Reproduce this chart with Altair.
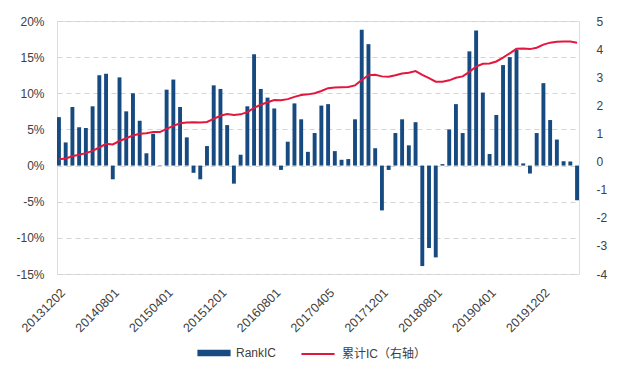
import altair as alt
import pandas as pd

# Monthly RankIC (%), Dec 2013 .. May 2020
rank_ic = [6.7, 3.2, 8.1, 5.3, 5.2, 8.2, 12.5, 12.7, -1.9, 12.2,
           7.5, 10.0, 6.2, 1.7, 4.4, 0.05, 10.5, 11.9, 8.1, 3.9,
           -1.0, -1.9, 2.7, 11.1, 10.6, 5.6, -2.5, 1.5, 8.2, 15.4,
           10.6, 9.4, 7.9, -0.6, 3.3, 8.6, 6.4, 1.9, 4.5, 8.3,
           8.5, 2.0, 0.8, 0.9, 6.4, 18.8, 16.8, 2.4, -6.2, -0.6,
           4.5, 6.4, 2.8, 6.0, -13.9, -11.4, -12.7, 0.2, 5.0, 8.5,
           4.5, 15.8, 18.7, 10.1, 1.6, 7.0, 13.9, 15.0, 16.0, 0.3,
           -1.1, 4.5, 11.4, 6.3, 3.6, 0.6, 0.55, -4.8]

# Cumulative IC (right axis)
cum_ic = [0.08, 0.11, 0.19, 0.24, 0.30, 0.38, 0.50, 0.63, 0.61, 0.73,
          0.83, 0.93, 0.99, 1.01, 1.05, 1.05, 1.16, 1.27, 1.36, 1.39,
          1.40, 1.39, 1.41, 1.52, 1.63, 1.69, 1.66, 1.68, 1.76, 1.91,
          2.02, 2.11, 2.19, 2.18, 2.22, 2.30, 2.37, 2.39, 2.43, 2.51,
          2.61, 2.63, 2.64, 2.65, 2.71, 2.90, 3.07, 3.09, 3.03, 3.02,
          3.07, 3.13, 3.16, 3.22, 3.08, 2.97, 2.84, 2.84, 2.89, 2.98,
          3.03, 3.19, 3.38, 3.48, 3.49, 3.56, 3.70, 3.85, 4.01, 4.02,
          4.00, 4.05, 4.16, 4.23, 4.26, 4.27, 4.27, 4.23]

tick_labels = ["20131202", "20140801", "20150401", "20151201", "20160801",
               "20170405", "20171201", "20180801", "20190401", "20191202"]

# month categories; shown ticks use the dates printed on the chart
months = pd.period_range("2013-12", periods=len(rank_ic), freq="M")
dates = [p.strftime("%Y%m") + "01" for p in months]
for i, lab in enumerate(tick_labels):
    dates[i * 8] = lab

df = pd.DataFrame({"date": dates, "ic": rank_ic, "cum": cum_ic})

blue = "#164a80"
red = "#e3173e"
font = "Liberation Sans, Arial, Noto Sans CJK SC"
lab_col = "#404040"

x = alt.X("date:N", sort=dates,
          scale=alt.Scale(paddingInner=0.42, paddingOuter=0),
          axis=alt.Axis(values=tick_labels, labelAngle=-45, title=None,
                        ticks=False, domain=False, grid=False,
                        labelPadding=12, labelFontSize=12.5,
                        labelColor=lab_col, labelFont=font))

bars = alt.Chart(df).transform_calculate(s1="'RankIC'").mark_bar(color=blue).encode(
    x=x,
    y=alt.Y("ic:Q", scale=alt.Scale(domain=[-15, 20], nice=False, zero=False),
            axis=alt.Axis(values=[-15, -10, -5, 0, 5, 10, 15, 20],
                          labelExpr="datum.value + '%'", title=None,
                          ticks=False, domain=False, grid=True,
                          gridDash=[5, 4], gridColor="#d4d4d4",
                          labelPadding=13, labelFontSize=12,
                          labelColor=lab_col, labelFont=font)),
    fill=alt.Fill("s1:N", scale=alt.Scale(domain=["RankIC"], range=[blue]),
                  legend=alt.Legend(title=None, orient="none", legendX=140, legendY=315,
                                    symbolType="M-1,-0.2L1,-0.2L1,0.2L-1,0.2Z",
                                    symbolSize=1100, symbolStrokeWidth=0,
                                    labelFontSize=12, labelFont=font,
                                    labelColor=lab_col, labelOffset=5, padding=0)),
)

line = alt.Chart(df).transform_calculate(s2="'累计IC（右轴）'").mark_line(
    color=red, strokeWidth=2).encode(
    x=x,
    y=alt.Y("cum:Q", scale=alt.Scale(domain=[-4, 5], nice=False, zero=False),
            axis=alt.Axis(orient="right", values=list(range(-4, 6)),
                          labelExpr="datum.value + ''", title=None,
                          ticks=False, domain=False, grid=False,
                          labelPadding=17, labelFontSize=12,
                          labelColor=lab_col, labelFont=font)),
    stroke=alt.Stroke("s2:N", scale=alt.Scale(domain=["累计IC（右轴）"], range=[red]),
                      legend=alt.Legend(title=None, orient="none", legendX=243, legendY=315,
                                        symbolType="stroke", symbolSize=1100,
                                        symbolStrokeWidth=2,
                                        labelFontSize=12, labelFont=font,
                                        labelColor=lab_col, labelOffset=6, padding=0)),
)

chart = alt.layer(bars, line).resolve_scale(
    y="independent", fill="independent", stroke="independent"
).properties(
    width=522, height=253,
    autosize=alt.AutoSizeParams(type="none"),
    padding={"left": 49, "top": 13, "right": 30, "bottom": 100},
).configure_view(stroke=None).configure(background="white")

chart.save("out.html", embed_options={"renderer": "svg", "actions": False})
